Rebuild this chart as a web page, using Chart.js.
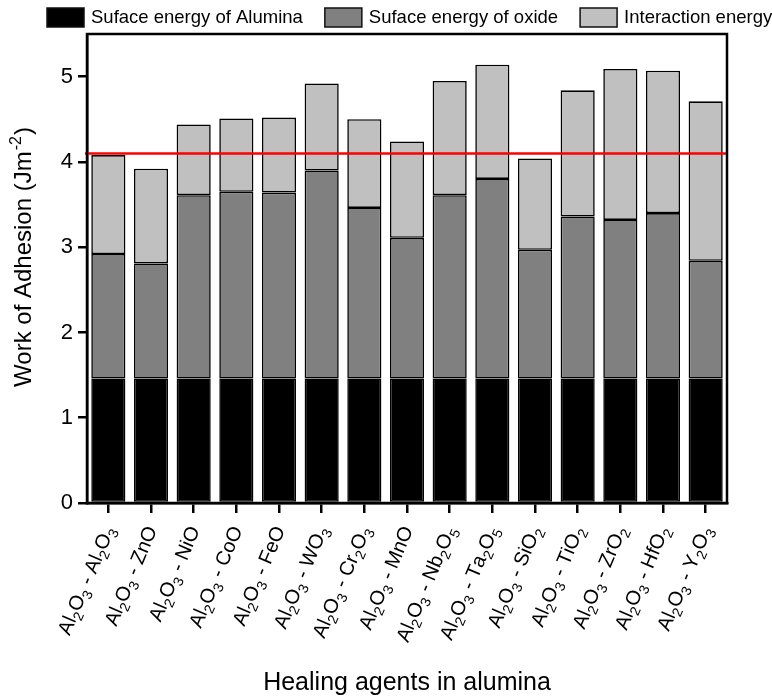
<!DOCTYPE html>
<html>
<head>
<meta charset="utf-8">
<script src="https://cdn.jsdelivr.net/npm/chart.js@4/dist/chart.umd.min.js"></script>
<style>
  html, body { margin: 0; padding: 0; background: #fff; }
  #wrap { width: 772px; height: 698px; position: relative; }
</style>
</head>
<body>
<div id="wrap"><canvas id="chart"></canvas></div>
<script>
const categories = [
  'Al₂O₃ - Al₂O₃', 'Al₂O₃ - ZnO', 'Al₂O₃ - NiO', 'Al₂O₃ - CoO', 'Al₂O₃ - FeO',
  'Al₂O₃ - WO₃', 'Al₂O₃ - Cr₂O₃', 'Al₂O₃ - MnO', 'Al₂O₃ - Nb₂O₅', 'Al₂O₃ - Ta₂O₅',
  'Al₂O₃ - SiO₂', 'Al₂O₃ - TiO₂', 'Al₂O₃ - ZrO₂', 'Al₂O₃ - HfO₂', 'Al₂O₃ - Y₂O₃'
];
const aluminaEnergy = [1.46, 1.46, 1.46, 1.46, 1.46, 1.46, 1.46, 1.46, 1.46, 1.46, 1.46, 1.46, 1.46, 1.46, 1.46];
const oxideEnergy = [1.46, 1.35, 2.15, 2.19, 2.18, 2.44, 2.00, 1.65, 2.15, 2.34, 1.51, 1.90, 1.86, 1.94, 1.38];
const interactionEnergy = [1.16, 1.11, 0.83, 0.86, 0.88, 1.02, 1.04, 1.13, 1.34, 1.34, 1.07, 1.48, 1.77, 1.67, 1.87];
const yTicks = [0, 1, 2, 3, 4, 5];
const referenceLevel = 4.10;

const FONT = "'Liberation Sans', Arial, sans-serif";
const subMap = { '₀':'0','₁':'1','₂':'2','₃':'3','₄':'4','₅':'5','₆':'6','₇':'7','₈':'8','₉':'9' };

// legend, titles, red reference line, full frame and rotated labels with real subscripts
const extras = {
  id: 'extras',
  afterDatasetsDraw(chart) {
    const { ctx, chartArea: a, scales: { x, y } } = chart;
    ctx.save();
    const ry = y.getPixelForValue(referenceLevel);
    ctx.strokeStyle = '#ff0000';
    ctx.lineWidth = 2.5;
    ctx.beginPath();
    ctx.moveTo(a.left - 2, ry);
    ctx.lineTo(a.right, ry);
    ctx.stroke();

    ctx.strokeStyle = '#000';
    ctx.lineWidth = 2.5;
    ctx.strokeRect(a.left, a.top, a.right - a.left, a.bottom - a.top);

    // legend
    ctx.font = '18.5px ' + FONT;
    ctx.textBaseline = 'middle';
    ctx.textAlign = 'left';
    let lx = 47;
    chart.data.datasets.forEach(ds => {
      ctx.fillStyle = ds.backgroundColor;
      ctx.fillRect(lx, 8, 37, 19);
      ctx.strokeStyle = '#111';
      ctx.lineWidth = 1.5;
      ctx.strokeRect(lx, 8, 37, 19);
      ctx.fillStyle = '#000';
      ctx.fillText(ds.label, lx + 44, 18);
      lx += 44 + ctx.measureText(ds.label).width + 22;
    });

    // x title
    ctx.font = '25px ' + FONT;
    ctx.textAlign = 'center';
    ctx.textBaseline = 'alphabetic';
    ctx.fillText('Healing agents in alumina', (a.left + a.right) / 2, 690);

    // y title with superscript
    ctx.save();
    ctx.translate(31, 258);
    ctx.rotate(-Math.PI / 2);
    const base = 'Work of Adhesion (Jm', sup = '-2', tail = ')';
    ctx.font = '24px ' + FONT;
    const wb = ctx.measureText(base).width, wt = ctx.measureText(tail).width;
    ctx.font = '16px ' + FONT;
    const ws = ctx.measureText(sup).width;
    let tx = -(wb + ws + wt) / 2;
    ctx.textAlign = 'left';
    ctx.font = '24px ' + FONT;
    ctx.fillText(base, tx, 0);
    ctx.font = '16px ' + FONT;
    ctx.fillText(sup, tx + wb + 1, -10);
    ctx.font = '24px ' + FONT;
    ctx.fillText(tail, tx + wb + ws + 2, 0);
    ctx.restore();

    // category labels
    const size = 20, subSize = 14;
    categories.forEach((lbl, i) => {
      const parts = [...lbl].map(ch => subMap[ch] ? { t: subMap[ch], sub: true } : { t: ch, sub: false });
      let total = 0;
      parts.forEach(p => {
        ctx.font = (p.sub ? subSize : size) + 'px ' + FONT;
        p.w = ctx.measureText(p.t).width;
        total += p.w;
      });
      ctx.save();
      ctx.translate(x.getPixelForTick(i) + 0, a.bottom + 24);
      ctx.rotate(-67 * Math.PI / 180);
      ctx.fillStyle = '#000';
      ctx.textAlign = 'left';
      ctx.textBaseline = 'alphabetic';
      let cx = -total;
      parts.forEach(p => {
        ctx.font = (p.sub ? subSize : size) + 'px ' + FONT;
        ctx.fillText(p.t, cx, p.sub ? 12 : 7);
        cx += p.w;
      });
      ctx.restore();
    });
    ctx.restore();
  }
};

const barStyle = { borderColor: '#000', borderWidth: 1.6, borderSkipped: false, barPercentage: 0.8, categoryPercentage: 1.0 };

new Chart(document.getElementById('chart'), {
  type: 'bar',
  data: {
    labels: categories,
    datasets: [
      { label: 'Suface energy of Alumina', data: aluminaEnergy, backgroundColor: '#000000', ...barStyle },
      { label: 'Suface energy of oxide', data: oxideEnergy, backgroundColor: '#808080', ...barStyle },
      { label: 'Interaction energy', data: interactionEnergy, backgroundColor: '#c0c0c0', ...barStyle }
    ]
  },
  options: {
    responsive: true,
    maintainAspectRatio: false,
    animation: false,
    layout: { padding: { top: 34, right: 45, bottom: 0, left: 0 } },
    plugins: {
      legend: { display: false },
      tooltip: { enabled: false }
    },
    scales: {
      x: {
        stacked: true,
        grid: { display: true, drawOnChartArea: false, drawTicks: true, tickLength: 10, color: '#000', lineWidth: 2.5, offset: false },
        border: { display: true, color: '#000', width: 2.5 },
        ticks: { display: false },
        afterFit(scale) { scale.height = 195; }
      },
      y: {
        stacked: true,
        min: 0,
        max: 5.5,
        afterBuildTicks(scale) { scale.ticks = yTicks.map(v => ({ value: v })); },
        grid: { display: true, drawOnChartArea: false, drawTicks: true, tickLength: 9, color: '#000', lineWidth: 2.5 },
        border: { display: true, color: '#000', width: 2.5 },
        ticks: { color: '#000', font: { family: FONT, size: 22 }, padding: 5 },
        afterFit(scale) { scale.width = 87; }
      }
    }
  },
  plugins: [extras]
});
</script>
</body>
</html>
